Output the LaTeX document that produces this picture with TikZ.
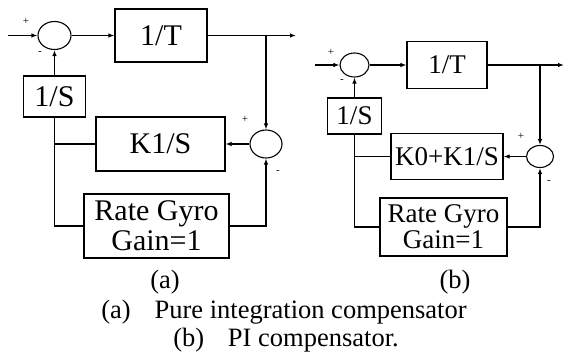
\documentclass[tikz,border=0pt]{standalone}
\usepackage{fontspec}
\setmainfont{Liberation Serif}
\usetikzlibrary{arrows.meta,shapes.geometric}
\begin{document}
\begin{tikzpicture}[x=1pt,y=-1pt,
  line width=1.1pt,
  blk/.style={draw,rectangle,inner sep=0pt,align=center},
  sumj/.style={draw,ellipse,inner sep=0pt},
  arr/.style={-{Latex[length=6pt,width=4.5pt]}},
  bigA/.style={font=\fontsize{30}{33}\selectfont},
  bigB/.style={font=\fontsize{27}{29}\selectfont},
  sgn/.style={font=\fontsize{11}{11}\selectfont,inner sep=0pt},
  captxt/.style={font=\fontsize{26.5}{28}\selectfont,inner sep=0pt,anchor=base}]
\useasboundingbox (0,0) rectangle (564,360);
% ---------- (a) ----------
\node[sumj,minimum width=33pt,minimum height=28pt] (sa1) at (54.5,35.5) {};
\node[blk,bigA,minimum width=92pt,minimum height=53pt] (Ta) at (161,35.5) {1/T};
\node[blk,bigA,minimum width=129pt,minimum height=54pt] (Ka) at (160.5,144) {K1/S};
\node[sumj,minimum width=32pt,minimum height=28pt] (sa2) at (266,144) {};
\node[blk,bigA,minimum width=62pt,minimum height=41pt] (Sa) at (54.5,96.5) {1/S};
\node[blk,bigA,minimum width=145pt,minimum height=64pt] (Ga) at (156.5,226) {Rate Gyro\\[-3pt]Gain=1};
\coordinate (ina) at (8,35.5);
\coordinate (outa) at (296,35.5);
\coordinate (bra) at (266,35.5);
\draw[arr] (ina) -- (sa1.west);
\draw[arr] (sa1.east) -- (Ta.west);
\draw[arr] (Ta.east) -- (outa);
\draw[arr] (bra) -- (sa2.north);
\draw[arr] (sa2.west) -- (Ka.east);
\draw (Ka.west) -- (Ka.west -| Sa.south);
\draw[arr] (Sa.north) -- (sa1.south);
\draw (Sa.south) |- (Ga.west);
\draw[arr] (Ga.east) -| (sa2.south);
\node[sgn] (pa1) at (26,21) {+};
\node[sgn] (ma1) at (40,53) {-};
\node[sgn] (pa2) at (245,119) {+};
\node[sgn] (ma2) at (278,172) {-};
% ---------- (b) ----------
\node[sumj,minimum width=29pt,minimum height=24pt] (sb1) at (354.5,65) {};
\node[blk,bigB,minimum width=80pt,minimum height=47pt] (Tb) at (447,65) {1/T};
\node[blk,bigB,minimum width=112pt,minimum height=46pt] (Kb) at (447,156.5) {K0+K1/S};
\node[sumj,minimum width=27pt,minimum height=22pt] (sb2) at (540,156.5) {};
\node[blk,bigB,minimum width=54pt,minimum height=36pt] (Sb) at (354.5,116) {1/S};
\node[blk,bigB,minimum width=127pt,minimum height=58pt] (Gb) at (443.5,227) {Rate Gyro\\[-3pt]Gain=1};
\coordinate (inb) at (315,65);
\coordinate (outb) at (564,65);
\coordinate (brb) at (540,65);
\draw[arr] (inb) -- (sb1.west);
\draw[arr] (sb1.east) -- (Tb.west);
\draw[arr] (Tb.east) -- (outb);
\draw[arr] (brb) -- (sb2.north);
\draw[arr] (sb2.west) -- (Kb.east);
\draw (Kb.west) -- (Kb.west -| Sb.south);
\draw[arr] (Sb.north) -- (sb1.south);
\draw (Sb.south) |- (Gb.west);
\draw[arr] (Gb.east) -| (sb2.south);
\node[sgn] (pb1) at (331,52) {+};
\node[sgn] (mb1) at (342,81) {-};
\node[sgn] (pb2) at (521,136) {+};
\node[sgn] (mb2) at (549,182) {-};
% ---------- captions ----------
\node[captxt] (la) at (165,288) {(a)};
\node[captxt] (lb) at (455,288) {(b)};
\node[captxt] (c1) at (284,318) {(a)\hspace{0.9em}Pure integration compensator};
\node[captxt] (c2) at (286,346) {(b)\hspace{0.9em}PI compensator.};
\end{tikzpicture}
\end{document}
